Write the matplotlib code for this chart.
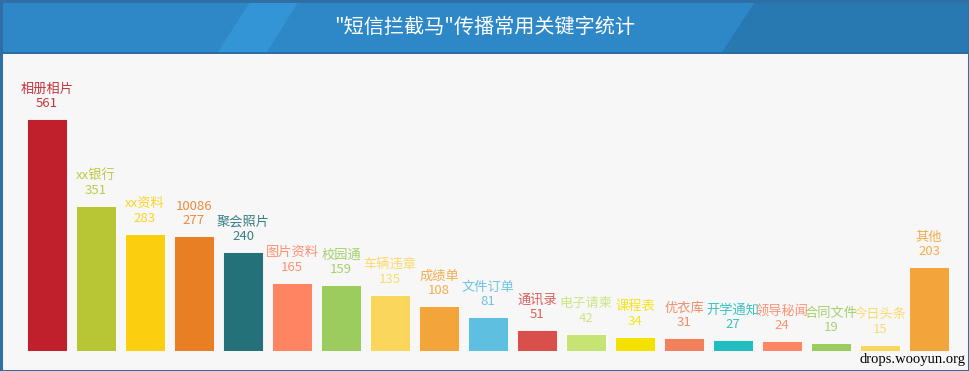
import matplotlib.pyplot as plt
from matplotlib.patches import Rectangle, Polygon
import matplotlib.colors as mcolors

plt.rcParams['font.family'] = ['Noto Sans CJK SC', 'DejaVu Sans']

# data
keywords = ['相册相片', 'xx银行', 'xx资料', '10086', '聚会照片', '图片资料', '校园通',
            '车辆违章', '成绩单', '文件订单', '通讯录', '电子请柬', '课程表', '优衣库',
            '开学通知', '领导秘闻', '合同文件', '今日头条', '其他']
counts = [561, 351, 283, 277, 240, 165, 159, 135, 108, 81, 51, 42, 34, 31, 27, 24, 19, 15, 203]
colors = ['#c0202c', '#b8c534', '#fbcf0f', '#e97f25', '#247179', '#ff8462', '#9ccb5e',
          '#fad65c', '#f3a43a', '#5fbfe0', '#d84f4b', '#c6e474', '#f4e100', '#f0815c',
          '#22bdbe', '#ff8664', '#9ccb5e', '#fbd65c', '#f3a43a']
title = '"短信拦截马"传播常用关键字统计'

W, H = 969, 371


def fx(x):
    return x / W


def fy(y):
    return 1 - y / H


fig = plt.figure(figsize=(W / 100, H / 100), dpi=100)
fig.patch.set_facecolor('#f7f7f7')

# header band
hdr_top, hdr_bot = 2, 52
fig.patches.append(Rectangle((0, fy(hdr_bot)), 1, fy(hdr_top) - fy(hdr_bot),
                             transform=fig.transFigure, facecolor='#2e88c8', edgecolor='none'))
fig.patches.append(Polygon([(fx(218), fy(hdr_bot)), (fx(250), fy(hdr_top)),
                            (fx(298), fy(hdr_top)), (fx(267), fy(hdr_bot))],
                           transform=fig.transFigure, facecolor='#3495d6', edgecolor='none'))
fig.patches.append(Polygon([(fx(722), fy(hdr_bot)), (fx(755), fy(hdr_top)),
                            (1, fy(hdr_top)), (1, fy(hdr_bot))],
                           transform=fig.transFigure, facecolor='#2878b1', edgecolor='none'))
fig.patches.append(Rectangle((0, fy(hdr_bot + 1.5)), 1, 1.5 / H,
                             transform=fig.transFigure, facecolor='#2a6fa3', edgecolor='none'))
fig.text(0.5, fy(27), title, color='white', fontsize=14.5, ha='center', va='center')

# bars
ax = fig.add_axes([fx(3), 20 / H, fx(963), 298 / H])
ax.set_facecolor('none')
xs = list(range(len(counts)))
ax.bar(xs, counts, width=40 / 49, color=colors, edgecolor='white', linewidth=0.6)
ax.set_xlim(-44 / 49, -44 / 49 + 963 / 49)
ax.set_ylim(0, 298 / 0.4136)
ax.axis('off')

for x, v, name, c in zip(xs, counts, keywords, colors):
    rgb = mcolors.to_rgb(c)
    tc = tuple(0.9 * ch + 0.1 for ch in rgb)
    ax.annotate(f'{name}\n{v}', (x, v), xytext=(0, 6.5), textcoords='offset points',
                ha='center', va='bottom', fontsize=9.5, color=tc, linespacing=1.15)

fig.text(fx(965), fy(360), 'drops.wooyun.org', family='Liberation Serif', fontsize=10.5,
         color='black', ha='right', va='center')

# outer border
fig.patches.append(Rectangle((0.5 / W, 0.5 / H), 1 - 1 / W, 1 - 1 / H,
                             transform=fig.transFigure, facecolor='none',
                             edgecolor='#2f6fa5', linewidth=2.2))

fig.savefig('out.png', dpi=100, facecolor=fig.get_facecolor())
